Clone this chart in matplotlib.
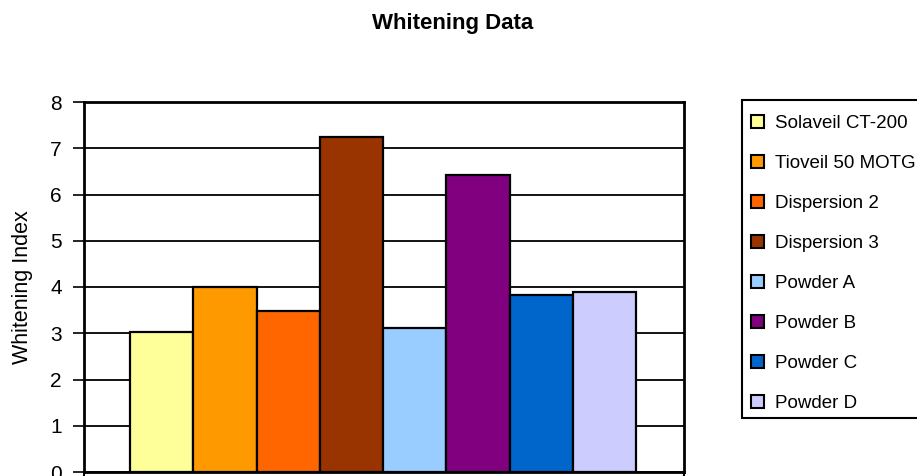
import matplotlib
matplotlib.use("Agg")
import matplotlib.pyplot as plt
from matplotlib.patches import Patch, Rectangle

plt.rcParams['font.family'] = ['Liberation Sans', 'DejaVu Sans']

# Data
samples = ["Solaveil CT-200", "Tioveil 50 MOTG", "Dispersion 2", "Dispersion 3",
           "Powder A", "Powder B", "Powder C", "Powder D"]
whitening = [3.02, 4.01, 3.49, 7.25, 3.11, 6.43, 3.83, 3.89]
colors = ["#FFFF99", "#FF9900", "#FF6600", "#993300",
          "#99CCFF", "#800080", "#0066CC", "#CCCCFF"]
yticks = [0, 1, 2, 3, 4, 5, 6, 7, 8]

W, H = 917, 476
fig = plt.figure(figsize=(W / 100, H / 100), dpi=100)
ax = fig.add_axes([84 / W, 4 / H, 600 / W, 370 / H])

xs = list(range(len(samples)))
ax.bar(xs, whitening, width=1.0, color=colors, edgecolor="black", linewidth=1.6, zorder=3)

x0, x1 = -1.23, 8.26
ax.set_xlim(x0, x1)
ax.set_ylim(0, 8)
ax.set_yticks(yticks)
ax.set_xticks([x0, x1])
ax.set_xticklabels([])
ax.tick_params(axis="y", direction="out", length=8, width=1.2, labelsize=15, pad=8)
ax.tick_params(axis="x", direction="out", length=6, width=1.5)
ax.grid(axis="y", color="black", linewidth=1.3, zorder=0)
for s in ax.spines.values():
    s.set_linewidth(2)

ax.set_ylabel("Whitening Index", fontsize=15.5, labelpad=12)
fig.text(453 / W, 1 - 24 / H, "Whitening Data", ha="center", va="center",
         fontsize=16, fontweight="bold")

# legend frame (runs off the right edge like the original)
fig.patches.append(Rectangle((742 / W, 1 - 418 / H), 200 / W, 318 / H,
                             transform=fig.transFigure, facecolor="white",
                             edgecolor="black", linewidth=1.5, zorder=0))

handles = [Patch(facecolor=c, edgecolor="black", linewidth=1.5) for c in colors]
leg = fig.legend(handles, samples, loc="upper left", bbox_to_anchor=(751 / W, 1 - 114.5 / H),
                 fontsize=13.5, frameon=False, handlelength=0.7,
                 handleheight=0.7, handletextpad=0.6, labelspacing=1.22,
                 borderpad=0, borderaxespad=0)

fig.savefig("out.png", dpi=100)
